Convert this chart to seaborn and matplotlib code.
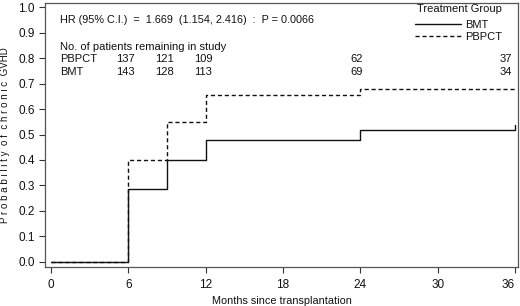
import matplotlib
matplotlib.use("Agg")
import matplotlib.pyplot as plt
import seaborn as sns
import pandas as pd
from matplotlib.lines import Line2D

# step curve knots (months, cumulative probability)
months = [0, 6, 9, 12, 24, 36]
bmt = [0.0, 0.286, 0.400, 0.478, 0.518, 0.537]
pbpct = [0.0, 0.400, 0.548, 0.657, 0.677, 0.677]

# patients remaining in study
risk_months = [6, 9, 12, 24, 36]
risk_pbpct = [137, 121, 109, 62, 37]
risk_bmt = [143, 128, 113, 69, 34]

df = pd.DataFrame({
    "Months": months * 2,
    "Prob": bmt + pbpct,
    "Treatment Group": ["BMT"] * len(months) + ["PBPCT"] * len(months),
})

sns.set_style("ticks")
plt.rcParams["font.family"] = ["Liberation Sans", "DejaVu Sans"]
ink = "#111111"

fig = plt.figure(figsize=(5.2, 3.06), dpi=100)
ax = fig.add_axes([0.0865, 0.1275, 0.9095, 0.8625])

sns.lineplot(data=df, x="Months", y="Prob", style="Treatment Group",
             style_order=["BMT", "PBPCT"], dashes={"BMT": "", "PBPCT": (3, 2)},
             color=ink, linewidth=1.0, drawstyle="steps-post", ax=ax,
             legend=False, estimator=None)

ax.set_xlim(-0.47, 36.23)
ax.set_ylim(-0.02, 1.016)
ax.set_xticks(range(0, 37, 6))
ax.set_yticks([i / 10 for i in range(11)])
ax.set_yticklabels([f"{i / 10:.1f}" for i in range(11)])
ax.tick_params(labelsize=8.5, colors="#333333", labelcolor=ink, length=4, width=0.8)
ax.tick_params(axis="x", pad=5)
ax.get_xticklabels()[-1].set_ha("right")
ax.get_xticklabels()[-1].set_x(36.5)
for s in ax.spines.values():
    s.set_color("#555555")
    s.set_linewidth(0.9)

ax.set_xlabel("Months since transplantation", fontsize=7.8, color=ink, labelpad=3)
ax.set_ylabel("P r o b a b i l i t y  o f  c h r o n i c  GVHD",
              fontsize=7, color=ink, labelpad=6)

ax.text(0.7, 0.949, "HR (95% C.I.)  =  1.669  (1.154, 2.416)  :  P = 0.0066",
        fontsize=7.8, color=ink, va="center")
ax.text(0.7, 0.843, "No. of patients remaining in study", fontsize=8, color=ink, va="center")
ax.text(0.7, 0.796, "PBPCT", fontsize=8, color=ink, va="center")
ax.text(0.7, 0.745, "BMT", fontsize=8, color=ink, va="center")
for m, p, b in zip(risk_months, risk_pbpct, risk_bmt):
    xx = m + 0.5 if m < 24 else m + 0.2 if m == 24 else m - 0.2
    ax.text(xx, 0.796, str(p), fontsize=8, color=ink, va="center", ha="right")
    ax.text(xx, 0.745, str(b), fontsize=8, color=ink, va="center", ha="right")

ax.text(0.786, 0.978, "Treatment Group", transform=ax.transAxes,
        fontsize=8, color=ink, va="center")
handles = [Line2D([], [], color=ink, lw=1.0),
           Line2D([], [], color=ink, lw=1.0, ls=(0, (3, 2)))]
leg = ax.legend(handles, ["BMT", "PBPCT"], loc="upper left",
                bbox_to_anchor=(0.782, 0.935), frameon=False, fontsize=8,
                handlelength=4.2, handletextpad=0.3, labelspacing=0.12,
                borderaxespad=0, borderpad=0)
for t in leg.get_texts():
    t.set_color(ink)

fig.savefig("out.png", dpi=100)
